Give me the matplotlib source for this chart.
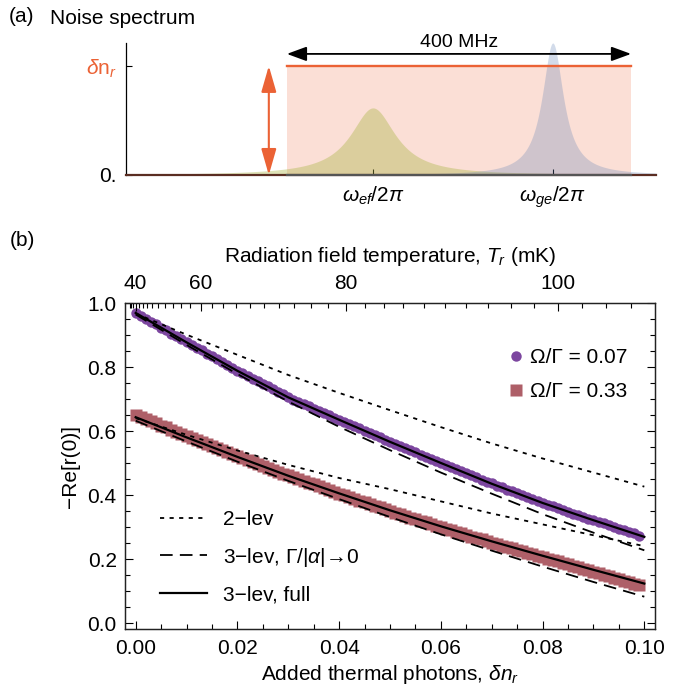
"""
Noise spectrum sketch (a) and reflection vs added thermal photons (b)
"""
import matplotlib
matplotlib.use('Agg')
import matplotlib.pyplot as plt
import numpy as np
from matplotlib.ticker import MultipleLocator, FixedLocator

plt.rcParams['font.family'] = ['Liberation Sans', 'DejaVu Sans']
plt.rcParams['mathtext.fontset'] = 'custom'
plt.rcParams['mathtext.rm'] = 'Liberation Sans'
plt.rcParams['mathtext.it'] = 'Liberation Sans:italic'
plt.rcParams['font.size'] = 15

##
# ---------------------------------------------------------------------------------------------------------------------
# Data
# ---------------------------------------------------------------------------------------------------------------------
# Panel (a): frequencies in MHz relative to omega_ge
freq_lim = [-496, 120]
band_edges = [-309, 91]          # 400 MHz wide noise band
band_level = 1.0                  # delta n_r
peak_centers = [-209, 0]          # omega_ef, omega_ge
peak_hwhm = [32, 15]
peak_heights = [0.615, 1.21]
peak_labels = [r'$\omega_{ef}/2\pi$', r'$\omega_{ge}/2\pi$']

# Panel (b): model curves
dn_model = [0.00, 0.01, 0.02, 0.03, 0.04, 0.05, 0.06, 0.07, 0.08, 0.09, 0.10]
weak_2lev = [0.968, 0.902, 0.839, 0.776, 0.720, 0.666, 0.613, 0.562, 0.515, 0.471, 0.427]
weak_3lev_adiab = [0.965, 0.870, 0.779, 0.693, 0.614, 0.541, 0.471, 0.405, 0.341, 0.283, 0.228]
weak_3lev_full = [0.970, 0.878, 0.789, 0.706, 0.636, 0.567, 0.501, 0.436, 0.376, 0.322, 0.270]
strong_2lev = [0.641, 0.589, 0.540, 0.495, 0.454, 0.419, 0.381, 0.343, 0.309, 0.275, 0.241]
strong_3lev_adiab = [0.633, 0.568, 0.505, 0.445, 0.388, 0.332, 0.278, 0.227, 0.177, 0.129, 0.083]
strong_3lev_full = [0.644, 0.581, 0.520, 0.461, 0.406, 0.353, 0.303, 0.256, 0.211, 0.167, 0.124]

# Panel (b): measured points (Omega/Gamma = 0.07 and 0.33)
dn_data = np.linspace(0.0, 0.099, 100)
weak_data = [0.971, 0.960, 0.952, 0.941, 0.934, 0.924, 0.916, 0.905, 0.897, 0.888,
             0.879, 0.871, 0.860, 0.853, 0.843, 0.836, 0.826, 0.818, 0.807, 0.799,
             0.790, 0.781, 0.774, 0.764, 0.757, 0.748, 0.741, 0.731, 0.724, 0.715,
             0.707, 0.699, 0.693, 0.685, 0.679, 0.671, 0.664, 0.658, 0.650, 0.643,
             0.635, 0.629, 0.622, 0.615, 0.609, 0.601, 0.595, 0.587, 0.581, 0.574,
             0.566, 0.561, 0.553, 0.547, 0.540, 0.534, 0.527, 0.520, 0.514, 0.507,
             0.500, 0.495, 0.488, 0.482, 0.475, 0.469, 0.462, 0.456, 0.449, 0.443,
             0.437, 0.430, 0.425, 0.418, 0.413, 0.406, 0.401, 0.394, 0.389, 0.382,
             0.376, 0.371, 0.365, 0.360, 0.354, 0.349, 0.343, 0.338, 0.333, 0.327,
             0.322, 0.317, 0.312, 0.306, 0.302, 0.296, 0.291, 0.286, 0.281, 0.274]
strong_data = [0.651, 0.644, 0.638, 0.631, 0.625, 0.618, 0.612, 0.605, 0.598, 0.592,
               0.585, 0.579, 0.572, 0.567, 0.560, 0.554, 0.547, 0.541, 0.535, 0.528,
               0.522, 0.516, 0.510, 0.504, 0.498, 0.492, 0.486, 0.480, 0.474, 0.468,
               0.462, 0.456, 0.451, 0.445, 0.439, 0.434, 0.428, 0.422, 0.417, 0.411,
               0.405, 0.400, 0.394, 0.389, 0.383, 0.378, 0.372, 0.367, 0.362, 0.356,
               0.351, 0.346, 0.341, 0.336, 0.330, 0.325, 0.320, 0.315, 0.310, 0.305,
               0.300, 0.295, 0.290, 0.286, 0.281, 0.276, 0.271, 0.266, 0.262, 0.257,
               0.252, 0.248, 0.243, 0.238, 0.234, 0.229, 0.225, 0.220, 0.215, 0.211,
               0.206, 0.202, 0.197, 0.193, 0.188, 0.184, 0.179, 0.175, 0.170, 0.166,
               0.160, 0.156, 0.151, 0.147, 0.142, 0.138, 0.133, 0.129, 0.124, 0.119]

# Top axis: radiation temperature (mK)
temp_major = [40, 60, 80, 100]
temp_minor = list(range(34, 112, 2))
theta_mK = 255.0   # h f / k_B of the qubit
T_base = 40.0

red = '#eb6235'
purple = '#7c469f'
mauve = '#ae5f68'


def temp_to_dn(T):
    T = np.asarray(T, dtype=float)
    return 1.0 / (np.exp(theta_mK / T) - 1.0) - 1.0 / (np.exp(theta_mK / T_base) - 1.0)


W, H = 689, 696
fig = plt.figure(figsize=(W / 100, H / 100), dpi=100)

##
# ---------------------------------------------------------------------------------------------------------------------
# Panel (a)
# ---------------------------------------------------------------------------------------------------------------------
axa = fig.add_axes([126 / W, 1 - 175 / H, 530 / W, 132 / H])
freq = np.linspace(freq_lim[0], freq_lim[1], 2000)

axa.fill_between(band_edges, 0, band_level, color=red, alpha=0.2, lw=0, zorder=1)
peak_colors = ['#a9b341', '#5e81b5']
peak_alphas = [0.38, 0.28]
for c, w, h, col, a in zip(peak_centers, peak_hwhm, peak_heights, peak_colors, peak_alphas):
    spec = h / (1 + ((freq - c) / w) ** 2)
    axa.fill_between(freq, 0, spec, color=col, alpha=a, lw=0, zorder=2)
axa.plot(band_edges, [band_level, band_level], color=red, lw=1.7, zorder=3)
axa.plot(band_edges, [0, 0], color='#555555', lw=1.6, zorder=4, clip_on=False)

axa.set_xlim(freq_lim)
axa.set_ylim(0, 1.21)
for s in ['top', 'right']:
    axa.spines[s].set_visible(False)
axa.spines['left'].set_linewidth(0.9)
axa.spines['bottom'].set_color('#5a2d22')
axa.spines['bottom'].set_linewidth(1.6)

axa.set_xticks(peak_centers)
axa.set_xticklabels(peak_labels)
axa.set_yticks([0, band_level])
axa.set_yticklabels(['0.', r'$\delta\mathrm{n}_r$'])
axa.get_yticklabels()[1].set_color(red)
axa.tick_params(direction='in', length=4, width=0.8, pad=7)

axa.annotate('', xy=(band_edges[1], 1.11), xytext=(band_edges[0], 1.11),
             arrowprops=dict(arrowstyle='<|-|>,head_length=0.6,head_width=0.22',
                             color='black', lw=1.3, shrinkA=0, shrinkB=0, mutation_scale=20))
axa.text(np.mean(band_edges), 1.21, '400 MHz', ha='center', va='center', fontsize=14)
axa.annotate('', xy=(-330, band_level), xytext=(-330, 0),
             arrowprops=dict(arrowstyle='<|-|>,head_length=0.8,head_width=0.23',
                             color=red, lw=1.5, shrinkA=0, shrinkB=0, mutation_scale=20))

fig.text(22 / W, 1 - 17 / H, '(a)', ha='center', va='center', fontsize=15)
fig.text(50 / W, 1 - 19 / H, 'Noise spectrum', ha='left', va='center', fontsize=15)

##
# ---------------------------------------------------------------------------------------------------------------------
# Panel (b)
# ---------------------------------------------------------------------------------------------------------------------
axb = fig.add_axes([125 / W, 1 - 629 / H, 530 / W, 326 / H])

axb.plot(dn_data, weak_data, 'o', color=purple, ms=7.5, mec='none', zorder=2, label='Ω/Γ = 0.07')
axb.plot(dn_data, strong_data, 's', color=mauve, ms=8.2, mec='none', zorder=2, label='Ω/Γ = 0.33')

ls_dot = (0, (2.3, 3.0))
ls_dash = (0, (7.0, 4.0))
l1, = axb.plot(dn_model, weak_2lev, color='black', lw=1.3, ls=ls_dot, zorder=3)
l2, = axb.plot(dn_model, weak_3lev_adiab, color='black', lw=1.3, ls=ls_dash, zorder=3)
l3, = axb.plot(dn_model, weak_3lev_full, color='black', lw=1.6, zorder=4)
axb.plot(dn_model, strong_2lev, color='black', lw=1.3, ls=ls_dot, zorder=3)
axb.plot(dn_model, strong_3lev_adiab, color='black', lw=1.3, ls=ls_dash, zorder=3)
axb.plot(dn_model, strong_3lev_full, color='black', lw=1.6, zorder=4)

axb.set_xlim(-0.0021, 0.1021)
axb.set_ylim(-0.018, 1.001)
axb.xaxis.set_major_locator(MultipleLocator(0.02))
axb.xaxis.set_minor_locator(MultipleLocator(0.005))
axb.yaxis.set_major_locator(MultipleLocator(0.2))
axb.yaxis.set_minor_locator(MultipleLocator(0.05))
axb.xaxis.set_major_formatter(matplotlib.ticker.FormatStrFormatter('%.2f'))
axb.yaxis.set_major_formatter(matplotlib.ticker.FormatStrFormatter('%.1f'))
axb.tick_params(which='both', direction='in', top=False, right=True, width=0.8)
axb.tick_params(which='major', length=6)
axb.tick_params(which='minor', length=3.5)
axb.tick_params(axis='x', pad=7)
axb.tick_params(axis='y', pad=6)
for s in axb.spines.values():
    s.set_linewidth(0.9)
    s.set_color('#222222')

axb.set_xlabel(r'Added thermal photons, $\delta n_r$', labelpad=4)
axb.set_ylabel('−Re[r(0)]', labelpad=5)

axt = axb.twiny()
axt.set_xlim(axb.get_xlim())
axt.xaxis.set_major_locator(FixedLocator(temp_to_dn(temp_major)))
axt.xaxis.set_minor_locator(FixedLocator(temp_to_dn(temp_minor)))
axt.set_xticklabels([str(t) for t in temp_major])
axt.tick_params(which='both', direction='in', width=0.8, pad=7)
axt.tick_params(which='major', length=6)
axt.tick_params(which='minor', length=3.5)
axt.set_xlabel(r'Radiation field temperature, $T_r$ (mK)', labelpad=9)
for s in axt.spines.values():
    s.set_linewidth(0.9)
    s.set_color('#222222')

leg1 = axb.legend(loc='upper left', bbox_to_anchor=(0.7226, 0.861), frameon=False,
                  borderpad=0, handlelength=0.75, handletextpad=0.31, labelspacing=0.72,
                  borderaxespad=0, fontsize=15)
axb.add_artist(leg1)
axb.legend([l1, l2, l3], ['2−lev', r'3−lev, Γ/|$\alpha$|→0', '3−lev, full'],
           loc='upper left', bbox_to_anchor=(0.066, 0.365), frameon=False,
           borderpad=0, handlelength=2.26, handletextpad=0.77, labelspacing=0.8,
           borderaxespad=0, fontsize=15)

fig.text(22 / W, 1 - 241 / H, '(b)', ha='center', va='center', fontsize=15)

fig.savefig('out.png', dpi=100)
